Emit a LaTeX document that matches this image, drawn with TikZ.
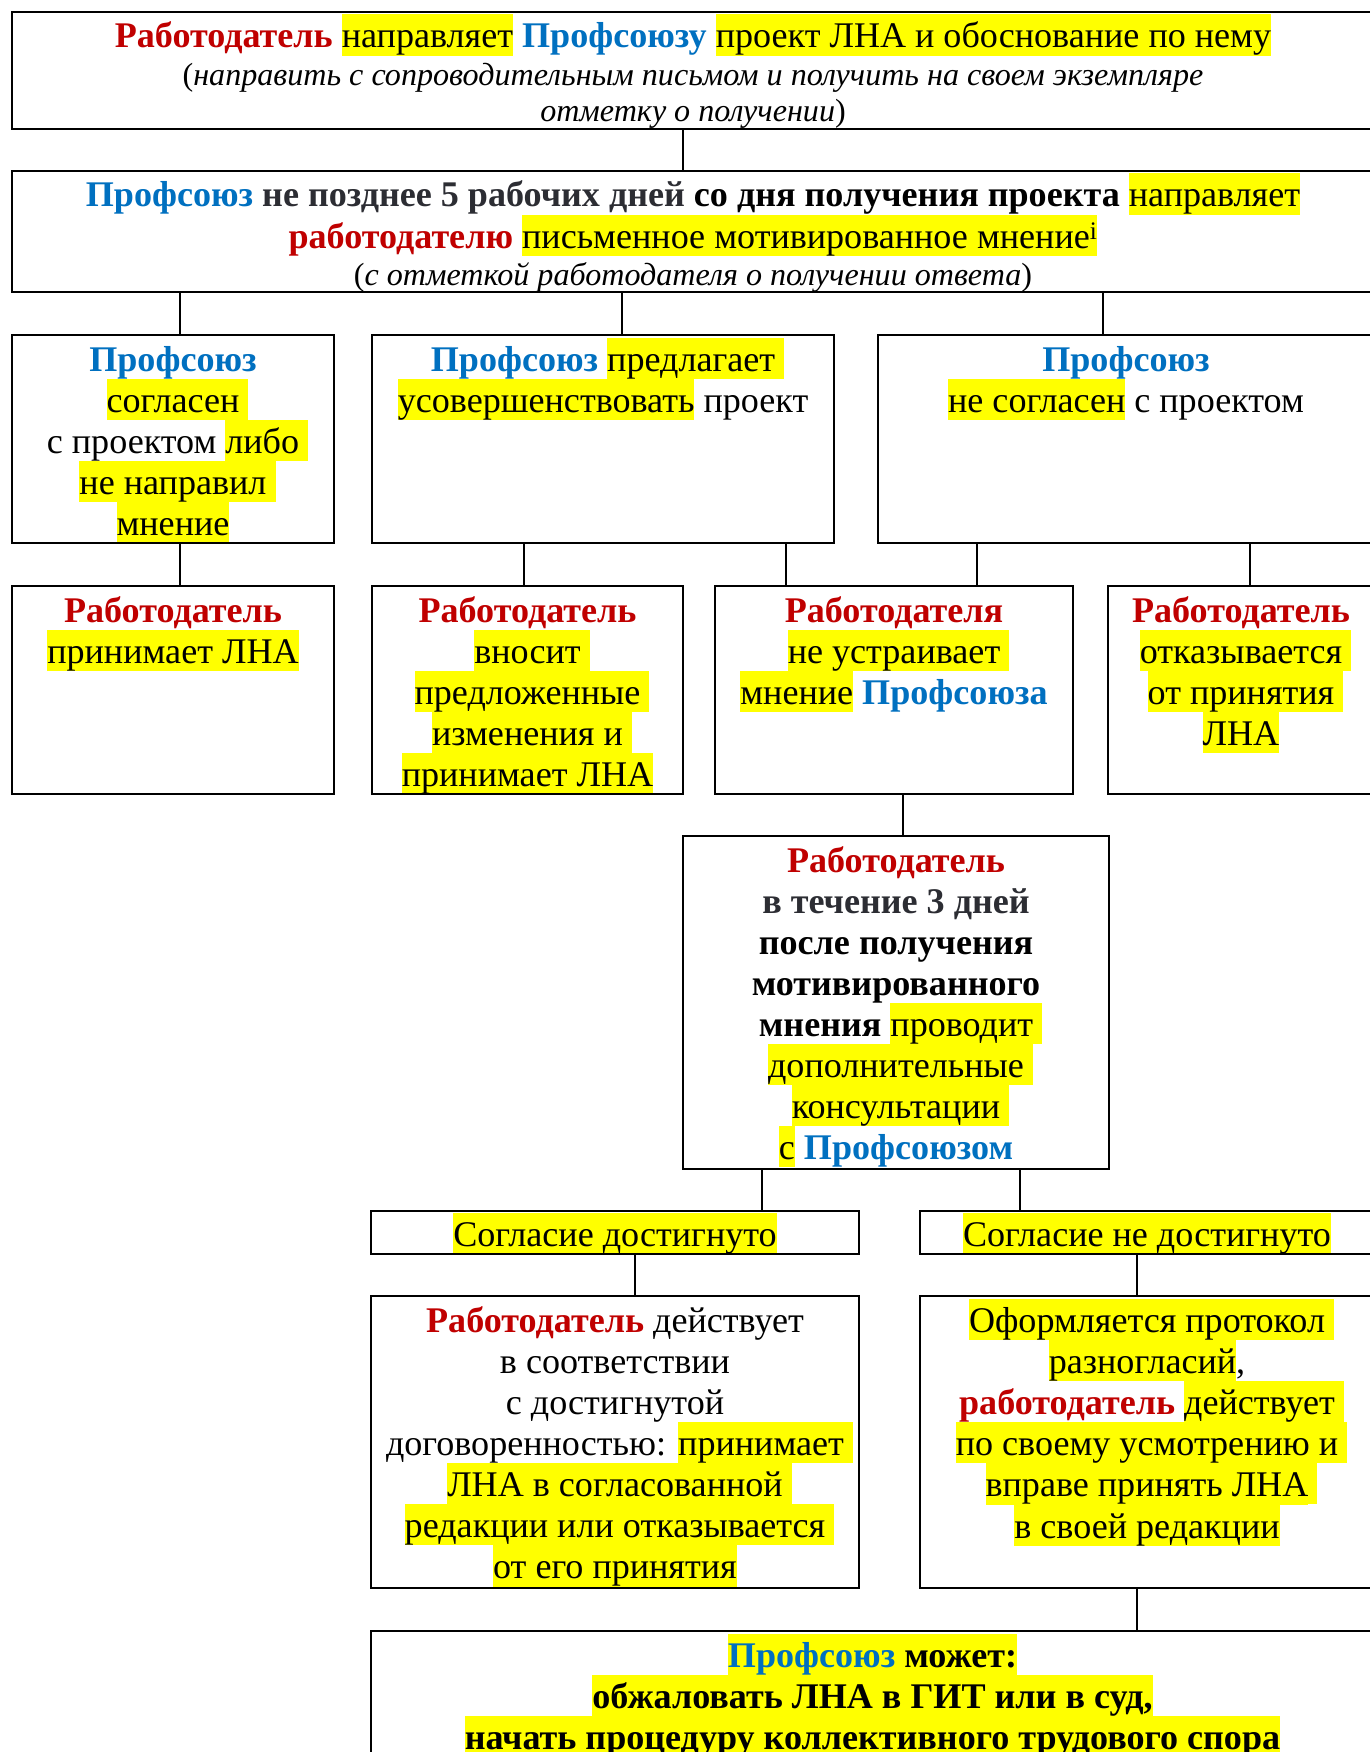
\documentclass[tikz,border=0pt]{standalone}
\usepackage{fontspec}
\setmainfont{Liberation Serif}
\definecolor{rd}{HTML}{C00000}
\definecolor{bl}{HTML}{0070C0}
\definecolor{dg}{HTML}{2C2D33}
\definecolor{hly}{HTML}{FFFF00}
\newcommand\bigf{\fontsize{36.1}{41}\selectfont\lineskiplimit=1000pt\lineskip=0pt}
\newcommand\smallf{\fontsize{32.1}{35.3}\selectfont}
\newcommand\bstrut{\rule[-7.5pt]{0pt}{41pt}}
\newcommand\sstrut{\rule[-6pt]{0pt}{35.3pt}}
\newcommand\hl[1]{{\setlength{\fboxsep}{0pt}\colorbox{hly}{\bstrut#1}}}
\newcommand\hlt[1]{\hl{#1}\rlap{\hl{\ }}}
\newcommand\rb[1]{\textcolor{rd}{\textbf{#1}}}
\newcommand\bb[1]{\textcolor{bl}{\textbf{#1}}}
\newcommand\gb[1]{\textcolor{dg}{\textbf{#1}}}
\pgfdeclarelayer{fg}
\pgfsetlayers{main,fg}
\tikzset{
  box/.style={draw, line width=2.2pt, anchor=north west, inner sep=0pt, outer sep=0pt},
  txt/.style={anchor=north, align=center, inner sep=0pt, outer sep=0pt, font=\bigf},
  conn/.style={line width=1.6pt}
}
\begin{document}
\begin{tikzpicture}[x=1pt, y=-1pt]
\useasboundingbox (0,0) rectangle (1369,1752);
\clip (0,0) rectangle (1369,1752);
\fill[white] (0,0) rectangle (1369,1752);
% boxes
\begin{pgfonlayer}{fg}
\node[box, minimum width=1362pt, minimum height=117pt] (n1) at (12,12) {};
\node[box, minimum width=1362pt, minimum height=121pt] (n2) at (12,171) {};
\node[box, minimum width=322pt, minimum height=208pt] (a3) at (12,335) {};
\node[box, minimum width=462pt, minimum height=208pt] (b3) at (372,335) {};
\node[box, minimum width=496pt, minimum height=208pt] (c3) at (878,335) {};
\node[box, minimum width=322pt, minimum height=208pt] (a4) at (12,586) {};
\node[box, minimum width=311pt, minimum height=208pt] (b4) at (372,586) {};
\node[box, minimum width=358pt, minimum height=208pt] (c4) at (715,586) {};
\node[box, minimum width=266pt, minimum height=208pt] (d4) at (1108,586) {};
\node[box, minimum width=426pt, minimum height=333pt] (m) at (683,836) {};
\node[box, minimum width=488pt, minimum height=43pt] (s1) at (371,1211) {};
\node[box, minimum width=454pt, minimum height=43pt] (s2) at (920,1211) {};
\node[box, minimum width=488pt, minimum height=292pt] (f1) at (371,1296) {};
\node[box, minimum width=454pt, minimum height=292pt] (f2) at (920,1296) {};
\node[box, minimum width=1003pt, minimum height=200pt] (z) at (371,1631) {};
\end{pgfonlayer}
% connectors
\draw[conn] (n1.south -| 683,0) -- (n2.north -| 683,0);
\draw[conn] (n2.south -| 180,0) -- (a3.north -| 180,0);
\draw[conn] (n2.south -| 622,0) -- (b3.north -| 622,0);
\draw[conn] (n2.south -| 1103,0) -- (c3.north -| 1103,0);
\draw[conn] (a3.south -| 180,0) -- (a4.north -| 180,0);
\draw[conn] (b3.south -| 524,0) -- (b4.north -| 524,0);
\draw[conn] (b3.south -| 786,0) -- (c4.north -| 786,0);
\draw[conn] (c3.south -| 977,0) -- (c4.north -| 977,0);
\draw[conn] (c3.south -| 1250,0) -- (d4.north -| 1250,0);
\draw[conn] (c4.south -| 903,0) -- (m.north -| 903,0);
\draw[conn] (m.south -| 762,0) -- (s1.north -| 762,0);
\draw[conn] (m.south -| 1020,0) -- (s2.north -| 1020,0);
\draw[conn] (s1.south -| 635,0) -- (f1.north -| 635,0);
\draw[conn] (s2.south -| 1137,0) -- (f2.north -| 1137,0);
\draw[conn] (f2.south -| 1137,0) -- (z.north -| 1137,0);
% texts
\node[txt] (n1t) at ([yshift=-2.5pt]n1.north) {\bstrut\rb{Работодатель} \hl{направляет} \bb{Профсоюзу} \hl{проект ЛНА и обоснование по нему}\\
{\smallf\sstrut(\textit{направить с сопроводительным письмом и получить на своем экземпляре}}\\
{\smallf\sstrut\textit{отметку о получении})}};
\node[txt] (n2t) at ([yshift=-2.5pt]n2.north) {\bstrut\bb{Профсоюз} \gb{не позднее 5 рабочих дней} \textbf{со дня получения проекта} \hl{направляет}\\
\bstrut\rb{работодателю} \hl{письменное мотивированное мнение\textsuperscript{i}}\\
{\smallf\sstrut(\textit{с отметкой работодателя о получении ответа})}};
\node[txt] (a3t) at ([yshift=-2.5pt]a3.north) {\bstrut\bb{Профсоюз}\\
\hlt{согласен}\\
\bstrut с проектом \hlt{либо}\\
\hlt{не направил}\\
\hl{мнение}};
\node[txt] (b3t) at ([yshift=-2.5pt]b3.north) {\bstrut\bb{Профсоюз} \hlt{предлагает}\\
\hl{усовершенствовать} проект};
\node[txt] (c3t) at ([yshift=-2.5pt]c3.north) {\bstrut\bb{Профсоюз}\\
\hl{не согласен} с проектом};
\node[txt] (a4t) at ([yshift=-2.5pt]a4.north) {\bstrut\rb{Работодатель}\\
\hl{принимает ЛНА}};
\node[txt] (b4t) at ([yshift=-2.5pt]b4.north) {\bstrut\rb{Работодатель}\\
\hlt{вносит}\\
\hlt{предложенные}\\
\hlt{изменения и}\\
\hl{принимает ЛНА}};
\node[txt] (c4t) at ([yshift=-2.5pt]c4.north) {\bstrut\rb{Работодателя}\\
\hlt{не устраивает}\\
\hl{мнение} \bb{Профсоюза}};
\node[txt] (d4t) at ([yshift=-2.5pt]d4.north) {\bstrut\rb{Работодатель}\\
\hlt{отказывается}\\
\hlt{от принятия}\\
\hl{ЛНА}};
\node[txt] (mt) at ([yshift=-2.5pt]m.north) {\bstrut\rb{Работодатель}\\
\bstrut\gb{в течение 3 дней}\\
\bstrut\textbf{после получения}\\
\bstrut\textbf{мотивированного}\\
\bstrut\textbf{мнения} \hlt{проводит}\\
\hlt{дополнительные}\\
\hlt{консультации}\\
\hl{с} \bb{Профсоюзом}};
\node[txt] (s1t) at ([yshift=-1.5pt]s1.north) {\hl{Согласие достигнуто}};
\node[txt] (s2t) at ([yshift=-1.5pt]s2.north) {\hl{Согласие не достигнуто}};
\node[txt] (f1t) at ([yshift=-2.5pt]f1.north) {\bstrut\rb{Работодатель} действует\\
\bstrut в соответствии\\
\bstrut с достигнутой\\
\bstrut договоренностью: \hlt{принимает}\\
\hlt{ЛНА в согласованной}\\
\hlt{редакции или отказывается}\\
\hl{от его принятия}};
\node[txt] (f2t) at ([yshift=-2.5pt]f2.north) {\hlt{Оформляется протокол}\\
\hl{разногласий},\\
\bstrut\rb{работодатель} \hlt{действует}\\
\hlt{по своему усмотрению и}\\
\hlt{вправе принять ЛНА}\\
\hl{в своей редакции}};
\node[txt] (zt) at ([yshift=-2.5pt]z.north) {\hl{\bb{Профсоюз} \textbf{может:}}\\
\hl{\textbf{обжаловать ЛНА в ГИТ или в суд,}}\\
\hl{\textbf{начать процедуру коллективного трудового спора}}};
\end{tikzpicture}
\end{document}
